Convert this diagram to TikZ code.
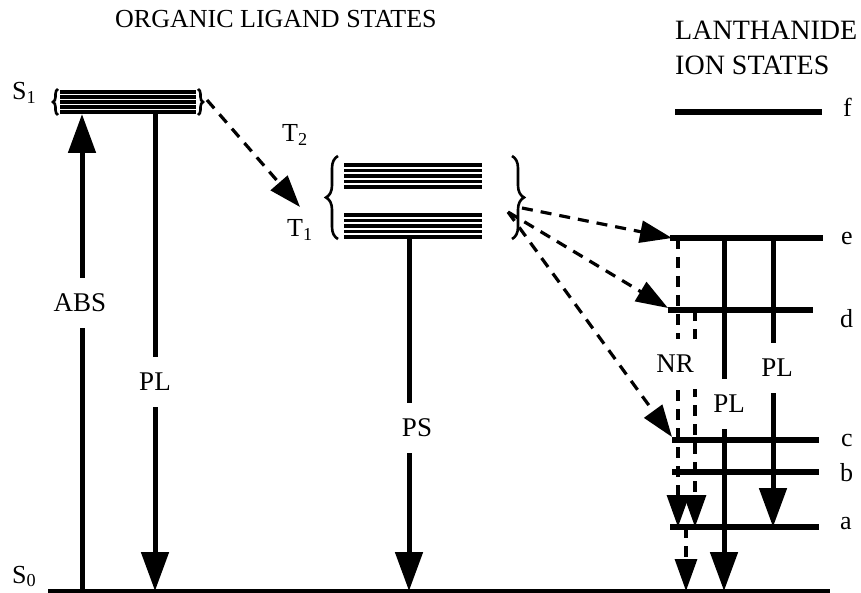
\documentclass[tikz,border=0pt]{standalone}
\usepackage{fontspec}
\setmainfont{Liberation Serif}
\usepackage{tikz}
\usetikzlibrary{arrows.meta,decorations.pathreplacing}
\tikzstyle{title} = [anchor=base west, inner sep=0pt, font=\fontsize{26}{28}\selectfont]
\tikzstyle{tag} = [anchor=base west, inner sep=0pt, font=\fontsize{26}{28}\selectfont]
\tikzstyle{lbl} = [fill=white, inner xsep=2pt, inner ysep=16pt, font=\fontsize{27}{29}\selectfont]
\tikzstyle{statelevel} = [line width=6pt]
\tikzstyle{ground} = [line width=4.5pt]
\tikzstyle{sublevel} = [line width=3.6pt]
\tikzstyle{curly} = [decorate, line width=2.6pt]
\tikzstyle{arrow} = [-{Triangle[length=39pt,width=27pt]}, line width=5pt]
\tikzstyle{dasharrow} = [-{Triangle[length=32pt,width=22pt]}, line width=3.2pt,
                         dash pattern=on 11pt off 8pt]

\begin{document}
\begin{tikzpicture}[x=1pt, y=-1pt]
    \useasboundingbox (0,0) rectangle (861,593);
    \node [title] (organic) at (115,28) {ORGANIC LIGAND STATES};
    \node [title, font=\fontsize{28}{30}\selectfont] (lanth) at (675,40) {LANTHANIDE};
    \node [title, font=\fontsize{28}{30}\selectfont] (ion)   at (675,75) {ION STATES};

    \node [tag] (s1) at (12,100) {S\textsubscript{1}};
    \node [tag] (s0) at (12,583) {S\textsubscript{0}};
    \node [tag] (t2) at (282,142) {T\textsubscript{2}};
    \node [tag] (t1) at (287,237) {T\textsubscript{1}};

    \draw [ground] (48,591) -- (830,591);
    \foreach \y in {92,97,102,107,112}
        \draw [sublevel] (60,\y) -- (196,\y);
    \draw [curly, decoration={brace, amplitude=5pt}] (58,115) -- (58,89);
    \draw [curly, decoration={brace, amplitude=5pt}] (198,89) -- (198,115);
    \foreach \y in {165,170.5,176,181.5,187,215,220.5,226,231.5,237}
        \draw [sublevel] (344,\y) -- (482,\y);
    \draw [curly, decoration={brace, amplitude=12pt}] (338,239) -- (338,156);
    \draw [curly, decoration={brace, amplitude=12pt}] (512,156) -- (512,239);

    \draw [statelevel] (675,112) -- (822,112);
    \draw [statelevel] (670,238) -- (823,238);
    \draw [statelevel] (668,310) -- (813,310);
    \draw [statelevel] (672,440) -- (819,440);
    \draw [statelevel] (672,472) -- (819,472);
    \draw [statelevel] (670,527) -- (819,527);
    \node [tag] (lf) at (843,117) {f};
    \node [tag] (le) at (841,245) {e};
    \node [tag] (ld) at (840,327) {d};
    \node [tag] (lc) at (841,446) {c};
    \node [tag] (lb) at (840,481) {b};
    \node [tag] (la) at (840,529) {a};

    \coordinate (absbot) at (82,591);   \coordinate (abstop) at (82,114);
    \coordinate (plbtop) at (155,114);  \coordinate (plbbot) at (155,591);
    \coordinate (s1out)  at (207,100);  \coordinate (t2in)   at (300,207);
    \coordinate (pstop)  at (409,238);  \coordinate (psbot)  at (409,591);
    \coordinate (tout)   at (522,208);  \coordinate (tmid)   at (508,212);
    \coordinate (ein)    at (672,238);  \coordinate (din)    at (668,308);
    \coordinate (cin)    at (672,437);
    \coordinate (nrea)   at (678,238);  \coordinate (nreb)   at (678,527);
    \coordinate (nrda)   at (695,310);  \coordinate (nrdb)   at (695,527);
    \coordinate (nrat)   at (686,527);  \coordinate (nrab)   at (686,591);
    \coordinate (pletop) at (724,238);  \coordinate (plebot) at (724,591);
    \coordinate (plrtop) at (773,238);  \coordinate (plrbot) at (773,527);

    \draw [arrow] (absbot) -- (abstop);
    \draw [arrow] (plbtop) -- (plbbot);
    \draw [dasharrow] (s1out) -- (t2in);
    \draw [arrow] (pstop) -- (psbot);
    \draw [dasharrow] (tout) -- (ein);
    \draw [dasharrow] (tmid) -- (din);
    \draw [dasharrow] (tmid) -- (cin);
    \draw [dasharrow] (nrea) -- (nreb);
    \draw [dasharrow] (nrda) -- (nrdb);
    \draw [dasharrow] (nrat) -- (nrab);
    \draw [arrow] (pletop) -- (plebot);
    \draw [arrow] (plrtop) -- (plrbot);

    \node [lbl] (abs) at (80,303)  {ABS};
    \node [lbl] (plb) at (155,382) {PL};
    \node [lbl] (ps)  at (417,428) {PS};
    \node [lbl, inner xsep=4pt] (nr) at (675,364) {NR};
    \node [lbl] (ple) at (729,404) {PL};
    \node [lbl] (plr) at (777,368) {PL};
\end{tikzpicture}
\end{document}
